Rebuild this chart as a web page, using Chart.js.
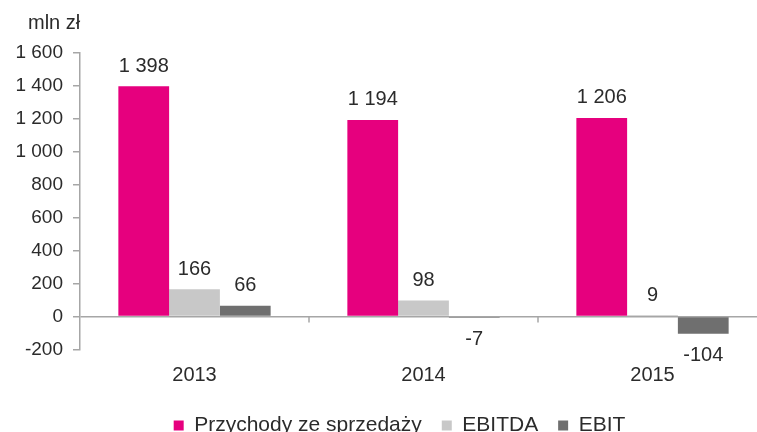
<!DOCTYPE html>
<html>
<head>
<meta charset="utf-8">
<script src="https://cdn.jsdelivr.net/npm/chart.js@4"></script>
<style>
  html, body { margin: 0; padding: 0; background: #fff; overflow: hidden; }
  #wrap { width: 790px; height: 446px; }
</style>
</head>
<body>
<div id="wrap"><canvas id="myChart"></canvas></div>
<script>
const categories = ['2013', '2014', '2015'];
const seriesNames = ['Przychody ze sprzedaży', 'EBITDA', 'EBIT'];
const revenue = [1398, 1194, 1206];
const ebitda = [166, 98, 9];
const ebit = [66, -7, -104];
const yTicks = [-200, 0, 200, 400, 600, 800, 1000, 1200, 1400, 1600];
const unitLabel = 'mln zł';

const colors = ['#E6007E', '#C8C8C8', '#6F6F6F'];
const axisColor = '#A6A6A6';
const textColor = '#2B2B2B';
const fontFamily = '"Liberation Sans", Arial, sans-serif';

function fmt(v) {
    const s = String(Math.abs(v)).replace(/\B(?=(\d{3})+(?!\d))/g, ' ');
    return (v < 0 ? '-' : '') + s;
}

// value labels above / below bars
const valueLabels = {
    id: 'valueLabels',
    afterDatasetsDraw(chart) {
        const ctx = chart.ctx;
        ctx.save();
        ctx.font = '20px ' + fontFamily;
        ctx.fillStyle = textColor;
        ctx.textAlign = 'center';
        ctx.textBaseline = 'middle';
        chart.data.datasets.forEach((ds, i) => {
            chart.getDatasetMeta(i).data.forEach((bar, j) => {
                const v = ds.data[j];
                const y = v >= 0 ? bar.y - 20 : bar.y + 22;
                ctx.fillText(fmt(v), bar.x, y);
            });
        });
        ctx.restore();
    }
};

// unit text and category separator ticks on the zero line
const extras = {
    id: 'extras',
    afterDraw(chart) {
        const ctx = chart.ctx;
        const xs = chart.scales.x;
        const zeroY = chart.scales.y.getPixelForValue(0);
        ctx.save();
        ctx.strokeStyle = axisColor;
        ctx.lineWidth = 1.5;
        for (let i = 1; i < categories.length; i++) {
            const x = (xs.getPixelForValue(i - 1) + xs.getPixelForValue(i)) / 2;
            ctx.beginPath();
            ctx.moveTo(x, zeroY);
            ctx.lineTo(x, zeroY + 6);
            ctx.stroke();
        }
        ctx.font = '20px ' + fontFamily;
        ctx.fillStyle = textColor;
        ctx.textAlign = 'left';
        ctx.textBaseline = 'middle';
        ctx.fillText(unitLabel, 28, 23);
        ctx.restore();
    }
};

document.addEventListener("DOMContentLoaded", myLoadEvent);

function myLoadEvent() {
    const ctx = document.getElementById('myChart');

    new Chart(ctx, {
        type: 'bar',
        data: {
            labels: categories,
            datasets: [revenue, ebitda, ebit].map((d, i) => ({
                label: seriesNames[i],
                data: d,
                backgroundColor: colors[i],
                borderWidth: 0,
                categoryPercentage: 0.665,
                barPercentage: 1.0
            }))
        },
        options: {
            responsive: true,
            maintainAspectRatio: false,
            animation: false,
            layout: {
                padding: { top: 53, left: 12, right: 3, bottom: 0 }
            },
            plugins: {
                legend: {
                    position: 'bottom',
                    labels: {
                        boxWidth: 10,
                        boxHeight: 10,
                        padding: 20,
                        color: textColor,
                        font: { family: fontFamily, size: 21 }
                    }
                },
                tooltip: { enabled: false }
            },
            scales: {
                x: {
                    grid: { display: false },
                    border: { display: false },
                    ticks: {
                        color: textColor,
                        padding: 6,
                        font: { family: fontFamily, size: 20 }
                    },
                    afterFit(scale) { scale.height = 45.5; }
                },
                y: {
                    min: -200,
                    max: 1600,
                    afterBuildTicks(scale) {
                        scale.ticks = yTicks.map(v => ({ value: v }));
                    },
                    afterFit(scale) { scale.width = 68; },
                    grid: {
                        color: c => (c.tick && c.tick.value === 0) ? axisColor : 'rgba(0,0,0,0)',
                        tickColor: axisColor,
                        tickLength: 7,
                        lineWidth: 1.5
                    },
                    border: { display: true, color: axisColor, width: 1.5 },
                    ticks: {
                        color: textColor,
                        padding: 10,
                        font: { family: fontFamily, size: 19 },
                        callback: v => fmt(v)
                    }
                },
                // empty right-side spacer so the legend sits where it does in the original
                spacer: {
                    type: 'linear',
                    position: 'right',
                    display: true,
                    grid: { display: false },
                    border: { display: false },
                    ticks: { display: false },
                    afterFit(scale) { scale.width = 20; }
                }
            }
        },
        plugins: [valueLabels, extras]
    });
}
</script>
</body>
</html>
